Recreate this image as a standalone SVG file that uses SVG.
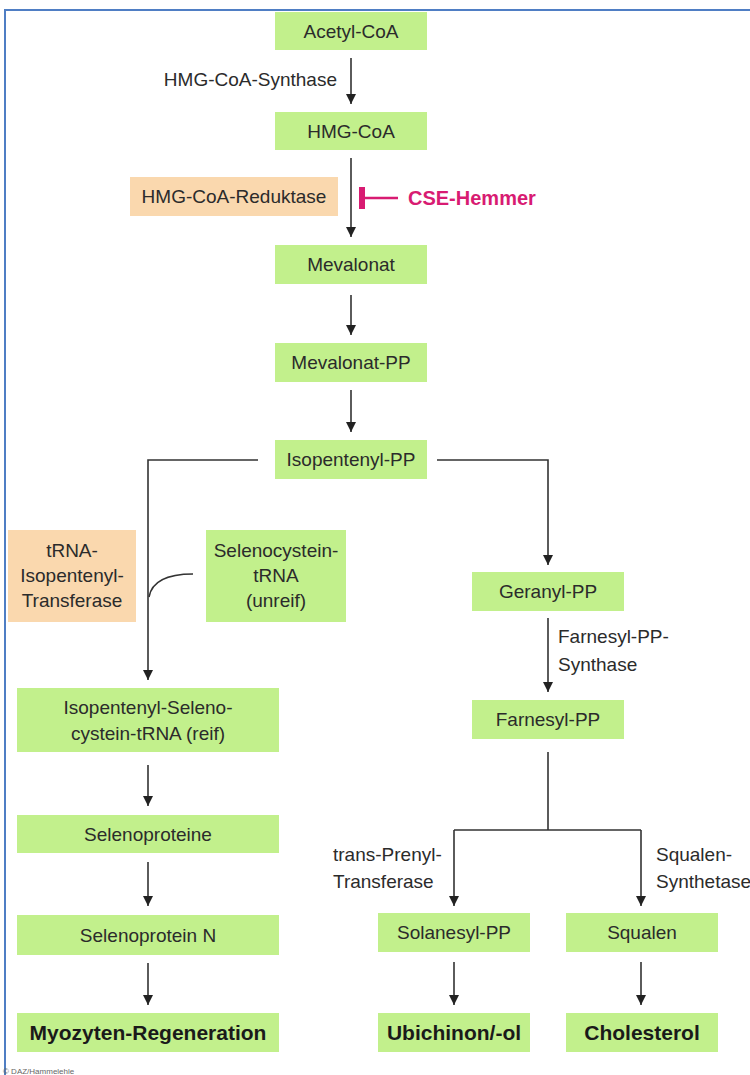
<svg xmlns="http://www.w3.org/2000/svg" width="750" height="1075" viewBox="0 0 750 1075">
<defs>
<style>
.g{fill:#c2f08c}
.p{fill:#fad8ae}
.t{font-family:"Liberation Sans",Arial,sans-serif;font-size:19px;fill:#2b2b2b;text-anchor:middle}
.b{font-weight:bold;font-size:21px;fill:#1a1a1a}
.l{font-family:"Liberation Sans",Arial,sans-serif;font-size:19px;fill:#2b2b2b}
.c{fill:none;stroke:#333;stroke-width:1.6}
</style>
<marker id="ah2" markerUnits="userSpaceOnUse" markerWidth="10" markerHeight="10" refX="10" refY="5" orient="auto" viewBox="0 0 10 10">
<path d="M0,0 L10,5 L0,10 z" fill="#222"/>
</marker>
</defs>
<rect width="750" height="1075" fill="#fff"/>
<path d="M5,1075 V10 H750" fill="none" stroke="#4f7ec4" stroke-width="2"/>

<g id="connectors">
<path class="c" marker-end="url(#ah2)" d="M351,58 V104"/>
<path class="c" marker-end="url(#ah2)" d="M351,158 V237"/>
<path class="c" marker-end="url(#ah2)" d="M351,295 V335"/>
<path class="c" marker-end="url(#ah2)" d="M351,390 V432"/>
<path class="c" marker-end="url(#ah2)" d="M258,460 H148 V680"/>
<path class="c" marker-end="url(#ah2)" d="M437,460 H548 V565"/>
<path class="c" d="M193,574 C168,574 152,580 149,597"/>
<path class="c" marker-end="url(#ah2)" d="M148,765 V806"/>
<path class="c" marker-end="url(#ah2)" d="M148,862 V906"/>
<path class="c" marker-end="url(#ah2)" d="M148,963 V1005"/>
<path class="c" marker-end="url(#ah2)" d="M548,618 V692"/>
<path class="c" d="M548,752 V830 M454,830 H641"/>
<path class="c" marker-end="url(#ah2)" d="M454,830 V906"/>
<path class="c" marker-end="url(#ah2)" d="M641,830 V906"/>
<path class="c" marker-end="url(#ah2)" d="M454,962 V1005"/>
<path class="c" marker-end="url(#ah2)" d="M641,962 V1005"/>
</g>

<g id="inhibitor">
<rect x="359" y="187" width="6" height="22" fill="#d81b72"/>
<path d="M365,198 H398" stroke="#d81b72" stroke-width="2.5"/>
<text x="408" y="205" class="l" style="font-weight:bold;font-size:20px;fill:#d81b72">CSE-Hemmer</text>
</g>

<g id="labels">
<text x="337" y="86" class="l" text-anchor="end">HMG-CoA-Synthase</text>
<text x="558" y="643" class="l">Farnesyl-PP-</text>
<text x="558" y="671" class="l">Synthase</text>
<text x="333" y="861" class="l">trans-Prenyl-</text>
<text x="333" y="888" class="l">Transferase</text>
<text x="656" y="861" class="l">Squalen-</text>
<text x="656" y="888" class="l">Synthetase</text>
</g>

<g id="acetyl"><rect class="g" x="275" y="12" width="152" height="38"/><text class="t" x="351" y="38">Acetyl-CoA</text></g>
<g id="hmgcoa"><rect class="g" x="275" y="112" width="152" height="38"/><text class="t" x="351" y="138">HMG-CoA</text></g>
<g id="reduktase"><rect class="p" x="130" y="177" width="208" height="39"/><text class="t" x="234" y="203">HMG-CoA-Reduktase</text></g>
<g id="mevalonat"><rect class="g" x="275" y="245" width="152" height="39"/><text class="t" x="351" y="271">Mevalonat</text></g>
<g id="mevalonatpp"><rect class="g" x="275" y="343" width="152" height="39"/><text class="t" x="351" y="369">Mevalonat-PP</text></g>
<g id="isopentenylpp"><rect class="g" x="275" y="440" width="152" height="39"/><text class="t" x="351" y="466">Isopentenyl-PP</text></g>
<g id="transferase"><rect class="p" x="8" y="530" width="128" height="92"/><text class="t" x="72" y="557">tRNA-</text><text class="t" x="72" y="582">Isopentenyl-</text><text class="t" x="72" y="607">Transferase</text></g>
<g id="selenounreif"><rect class="g" x="206" y="530" width="140" height="92"/><text class="t" x="276" y="557">Selenocystein-</text><text class="t" x="276" y="582">tRNA</text><text class="t" x="276" y="607">(unreif)</text></g>
<g id="selenoreif"><rect class="g" x="17" y="688" width="262" height="64"/><text class="t" x="148" y="714">Isopentenyl-Seleno-</text><text class="t" x="148" y="740">cystein-tRNA (reif)</text></g>
<g id="selenoproteine"><rect class="g" x="17" y="815" width="262" height="38"/><text class="t" x="148" y="841">Selenoproteine</text></g>
<g id="selenoproteinn"><rect class="g" x="17" y="915" width="262" height="40"/><text class="t" x="148" y="942">Selenoprotein N</text></g>
<g id="myozyten"><rect class="g" x="17" y="1013" width="262" height="39"/><text class="t b" x="148" y="1040">Myozyten-Regeneration</text></g>
<g id="geranyl"><rect class="g" x="472" y="572" width="152" height="39"/><text class="t" x="548" y="598">Geranyl-PP</text></g>
<g id="farnesyl"><rect class="g" x="472" y="700" width="152" height="39"/><text class="t" x="548" y="726">Farnesyl-PP</text></g>
<g id="solanesyl"><rect class="g" x="378" y="913" width="152" height="39"/><text class="t" x="454" y="939">Solanesyl-PP</text></g>
<g id="squalen"><rect class="g" x="566" y="913" width="152" height="39"/><text class="t" x="642" y="939">Squalen</text></g>
<g id="ubichinon"><rect class="g" x="378" y="1013" width="152" height="39"/><text class="t b" x="454" y="1040">Ubichinon/-ol</text></g>
<g id="cholesterol"><rect class="g" x="566" y="1013" width="152" height="39"/><text class="t b" x="642" y="1040">Cholesterol</text></g>

<text x="3" y="1074" style="font-family:'Liberation Sans',Arial,sans-serif;font-size:8px;fill:#666">© DAZ/Hammelehle</text>
</svg>
